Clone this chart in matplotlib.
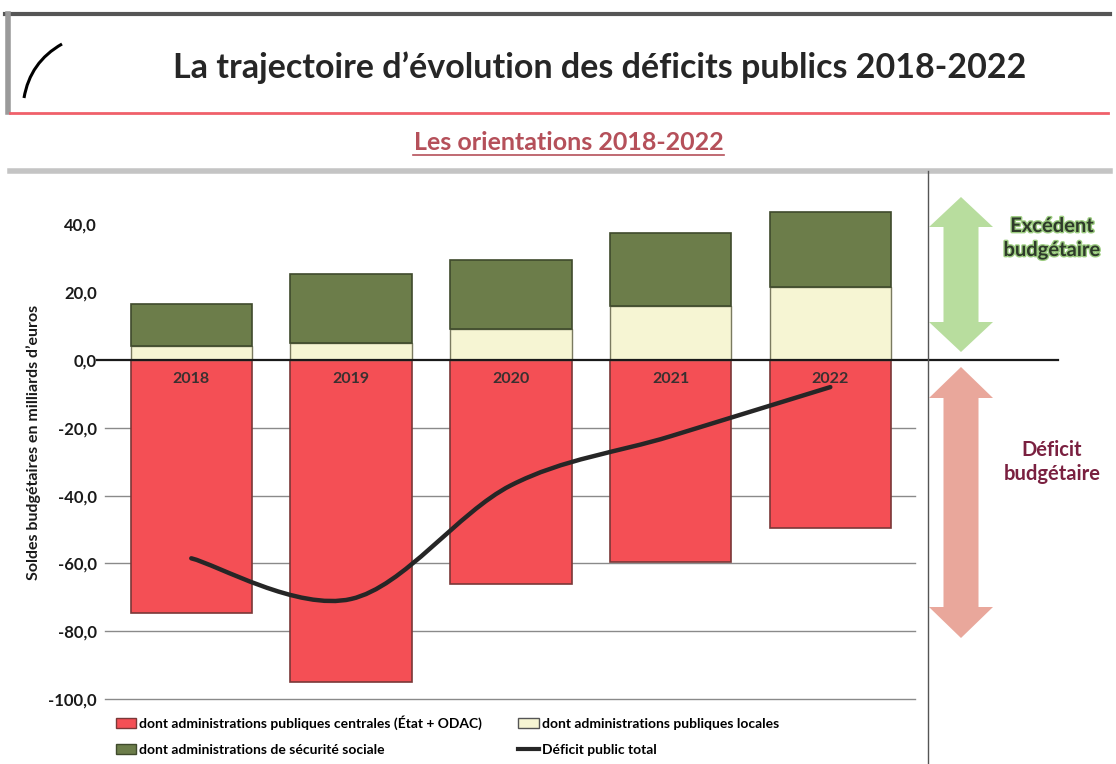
import numpy as np
import matplotlib.pyplot as plt
from matplotlib.path import Path
from matplotlib.patches import PathPatch, Patch, Polygon
from matplotlib.lines import Line2D
import matplotlib.patheffects as pe

plt.rcParams['font.family'] = ['Lato', 'DejaVu Sans']

# data (milliards d'euros)
years = ['2018', '2019', '2020', '2021', '2022']
apu_centrales = [-74.5, -95.0, -66.0, -59.5, -49.5]
apu_locales = [4.0, 5.0, 9.0, 16.0, 21.5]
secu_sociale = [12.5, 20.5, 20.5, 21.5, 22.0]
deficit_total = [-58.5, -70.5, -37.0, -22.5, -8.0]
yticks = [40, 20, 0, -20, -40, -60, -80, -100]

legend_labels = ['dont administrations publiques centrales (État + ODAC)',
                 'dont administrations publiques locales',
                 'dont administrations de sécurité sociale',
                 'Déficit public total']

W, H = 1116, 764
fig = plt.figure(figsize=(W / 100, H / 100), dpi=100)


def fx(px):
    return px / W


def fy(py):
    return 1 - py / H


# header of the slide
fig.add_artist(Line2D([fx(5), fx(1110)], [fy(14), fy(14)], color='#555555', lw=3))
fig.add_artist(Line2D([fx(8), fx(8)], [fy(14), fy(112)], color='#9a9a9a', lw=4))
fig.add_artist(Line2D([fx(10), fx(1108)], [fy(113), fy(113)], color='#f0606a', lw=2))
logo = Path([(fx(24), fy(98)), (fx(30), fy(62)), (fx(62), fy(44))],
            [Path.MOVETO, Path.CURVE3, Path.CURVE3])
fig.add_artist(PathPatch(logo, transform=fig.transFigure, facecolor='none',
                         edgecolor='black', lw=2.2))
fig.text(fx(600), fy(68), 'La trajectoire d’évolution des déficits publics 2018-2022',
         ha='center', va='center', fontsize=24.5, color='#262626', fontweight='bold')

fig.text(fx(569), fy(142), 'Les orientations 2018-2022', ha='center', va='center',
         fontsize=18, fontweight='bold', color='#b5505a')
fig.add_artist(Line2D([fx(413), fx(724)], [fy(155), fy(155)], color='#b5505a', lw=1.2))
fig.add_artist(Line2D([fx(10), fx(1110)], [fy(171), fy(171)], color='#c4c4c4', lw=4))
fig.add_artist(Line2D([fx(928), fx(928)], [fy(171), fy(764)], color='#555555', lw=1))

# chart
ax = fig.add_axes([fx(105), fy(699), fx(915) - fx(105), (699 - 204) / H])
x = np.arange(len(years))
ax.bar(x, apu_centrales, width=0.76, color='#f44f55', edgecolor='#7a3838', linewidth=1.2, zorder=2)
ax.bar(x, apu_locales, width=0.76, color='#f6f5d3', edgecolor='#7a7a60', linewidth=1.0, zorder=2)
ax.bar(x, secu_sociale, width=0.76, bottom=apu_locales, color='#6c7d4a',
       edgecolor='#3f4a2c', linewidth=1.2, zorder=2)

for xi, yr in zip(x, years):
    ax.text(xi, -5.5, yr, ha='center', va='center', fontsize=11.5,
            fontweight='bold', color='#3a3030', zorder=4)

# smoothed total line (cubic bezier through the data points)
pts = np.column_stack([x, deficit_total]).astype(float)
ext = np.vstack([pts[0], pts, pts[-1]])
verts = [tuple(pts[0])]
codes = [Path.MOVETO]
for i in range(1, len(ext) - 2):
    p0, p1, p2, p3 = ext[i - 1], ext[i], ext[i + 1], ext[i + 2]
    c1 = p1 + (p2 - p0) / 6
    c2 = p2 - (p3 - p1) / 6
    verts += [tuple(c1), tuple(c2), tuple(p2)]
    codes += [Path.CURVE4] * 3
ax.add_patch(PathPatch(Path(verts, codes), facecolor='none', edgecolor='#262626',
                       lw=3.2, zorder=3, capstyle='round'))

for v in yticks:
    if v < 0:
        ax.axhline(v, color='#8a8a8a', lw=1, zorder=1, clip_on=False)
ax.axhline(0, xmin=-0.01, xmax=(1058 - 105) / 810, color='#1a1a1a', lw=1.6,
           clip_on=False, zorder=3)

ax.set_xlim(-0.54, 4.53)
ax.set_ylim(-100, 46)
ax.set_yticks(yticks)
ax.set_yticklabels([f'{v:.1f}'.replace('.', ',') for v in yticks],
                   fontweight='bold', fontsize=12, color='#1a1a1a')
ax.set_xticks([])
ax.tick_params(axis='y', length=0, pad=6)
for s in ax.spines.values():
    s.set_visible(False)

fig.text(fx(34), fy(442), 'Soldes budgétaires en milliards d’euros', rotation=90,
         ha='center', va='center', fontsize=11.5, fontweight='bold', color='#1a1a1a')


# double arrows on the right
def double_arrow(cx, top, bottom, head_w, head_len, shaft_w, color):
    p = [(cx, top), (cx + head_w / 2, top + head_len), (cx + shaft_w / 2, top + head_len),
         (cx + shaft_w / 2, bottom - head_len), (cx + head_w / 2, bottom - head_len),
         (cx, bottom), (cx - head_w / 2, bottom - head_len), (cx - shaft_w / 2, bottom - head_len),
         (cx - shaft_w / 2, top + head_len), (cx - head_w / 2, top + head_len)]
    fig.add_artist(Polygon([(fx(a), fy(b)) for a, b in p], closed=True,
                           transform=fig.transFigure, facecolor=color, edgecolor='none'))


double_arrow(961, 197, 352, 64, 30, 35, '#b8dd9e')
double_arrow(961, 367, 638, 64, 31, 35, '#e9a79b')

fig.text(fx(1052), fy(238), 'Excédent\nbudgétaire', ha='center', va='center',
         fontsize=14.5, fontweight='bold', color='#2e3a2a', linespacing=1.25,
         path_effects=[pe.withStroke(linewidth=2, foreground='#9ccc80')])
fig.text(fx(1052), fy(462), 'Déficit\nbudgétaire', ha='center', va='center',
         fontsize=14.5, fontweight='bold', color='#7a2040', linespacing=1.25)

# legend
handles = [Patch(facecolor='#f44f55', edgecolor='#7a3838'),
           Patch(facecolor='#6c7d4a', edgecolor='#3f4a2c'),
           Patch(facecolor='#f6f5d3', edgecolor='#555555'),
           Line2D([0], [0], color='#262626', lw=3)]
fig.legend(handles, [legend_labels[0], legend_labels[2], legend_labels[1], legend_labels[3]],
           ncol=2, loc='upper left', bbox_to_anchor=(fx(110), fy(710)), frameon=False,
           prop={'weight': 'bold', 'size': 10}, handlelength=1.5, handletextpad=0.2,
           columnspacing=2.6, labelspacing=1.0, borderaxespad=0)

fig.savefig('out.png', dpi=100)
